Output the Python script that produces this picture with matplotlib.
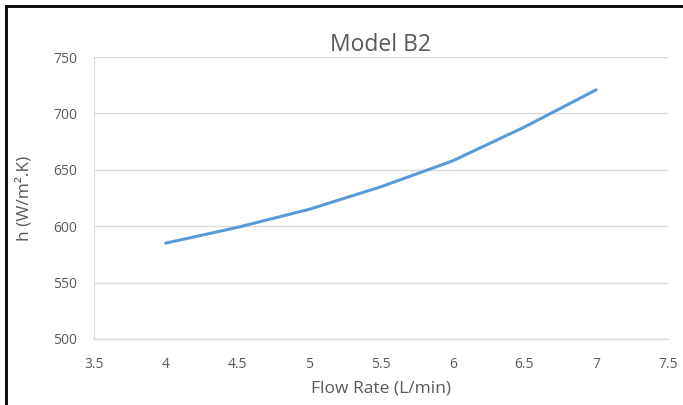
import matplotlib
matplotlib.use("Agg")
import matplotlib.pyplot as plt
from matplotlib.lines import Line2D

flow_rate = [4, 4.5, 5, 5.5, 6, 6.5, 7]
h_values = [585, 599, 615, 635, 658, 688, 721]
x_ticks = [3.5, 4, 4.5, 5, 5.5, 6, 6.5, 7, 7.5]
y_ticks = [500, 550, 600, 650, 700, 750]

plt.rcParams["font.family"] = ["Open Sans", "DejaVu Sans"]
text_color = "#595959"

fig = plt.figure(figsize=(6.83, 4.05), dpi=100)
ax = fig.add_axes([0.1376, 0.163, 0.8404, 0.696])

ax.plot(flow_rate, h_values, color="#5b9bd5", linewidth=2.2,
        solid_joinstyle="round", solid_capstyle="round")

ax.set_xlim(3.5, 7.5)
ax.set_ylim(500, 750)
ax.set_xticks(x_ticks)
ax.set_xticklabels([f"{v:g}" for v in x_ticks])
ax.set_yticks(y_ticks)
ax.grid(True, axis="y", color="#d9d9d9", linewidth=1)
ax.set_axisbelow(True)

for side in ["top", "right"]:
    ax.spines[side].set_visible(False)
for side in ["left", "bottom"]:
    ax.spines[side].set_color("#d9d9d9")
ax.tick_params(axis="x", length=0, labelsize=10, colors=text_color, pad=13)
ax.tick_params(axis="y", length=0, labelsize=10, colors=text_color, pad=12)

ax.set_title("Model B2", fontsize=16.5, color=text_color, pad=4)
ax.set_xlabel("Flow Rate (L/min)", fontsize=12.5, color=text_color, va="center")
ax.set_ylabel("h (W/m².K)", fontsize=12.5, color=text_color, va="center")
ax.xaxis.set_label_coords(0.5, -0.174)
ax.yaxis.set_label_coords(-0.122, 0.5)

# screenshot frame on the left and top
fig.add_artist(Line2D([0.0095, 0.0095], [0, 0.985], color="black", linewidth=2,
                      transform=fig.transFigure))
fig.add_artist(Line2D([0.0095, 1.0], [0.985, 0.985], color="black", linewidth=2,
                      transform=fig.transFigure))

fig.savefig("out.png", dpi=100)
